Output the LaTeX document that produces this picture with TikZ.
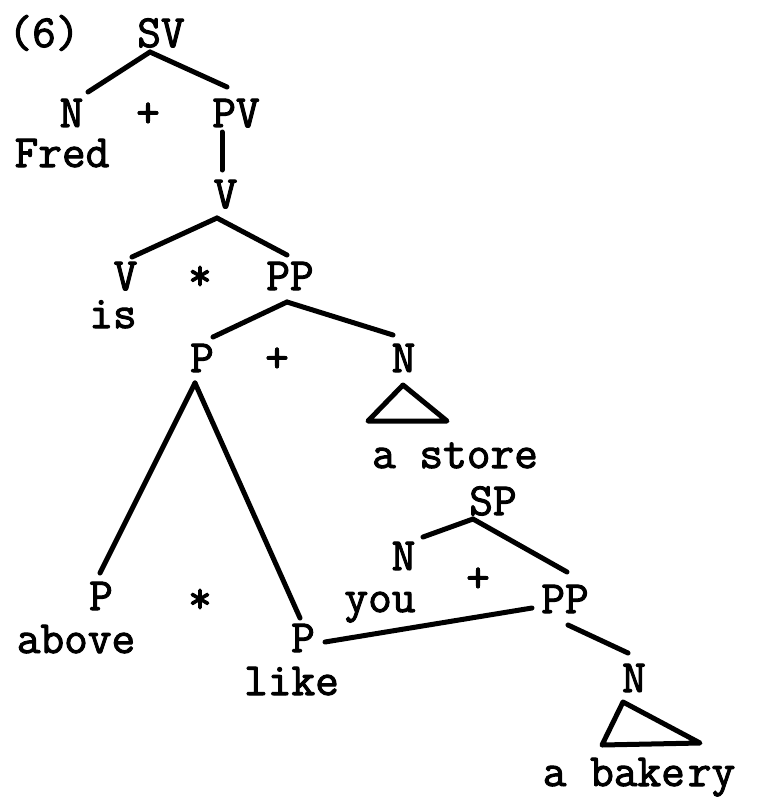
\documentclass[tikz,border=0pt]{standalone}
\usepackage{fontspec}
\newfontfamily\twfont{Latin Modern Mono}[FakeBold=2.2]
\begin{document}
\begin{tikzpicture}[x=1pt,y=-1pt,
  lbl/.style={anchor=base,inner sep=0pt,font=\fontsize{46}{52}\twfont},
  br/.style={line width=5pt,line cap=round,line join=round}]
\useasboundingbox[fill=white] (0,0) rectangle (756,797);
% labels
\node[lbl] (t6) at (44,47) {(6)};
\node[lbl] (SV) at (161,47) {SV};
\node[lbl] (N1) at (71.5,127) {N};
\node[lbl] (plus1) at (148,127) {+};
\node[lbl] (PV) at (236,127) {PV};
\node[lbl] (Fred) at (62,167) {Fred};
\node[lbl] (V1) at (225.5,208) {V};
\node[lbl] (V2) at (125.5,290) {V};
\node[lbl] (star1) at (200,290) {*};
\node[lbl] (PP1) at (290,290) {PP};
\node[lbl] (is) at (113,328) {is};
\node[lbl] (P1) at (202,372) {P};
\node[lbl] (plus2) at (277,372) {+};
\node[lbl] (N2) at (403.5,372) {N};
\node[lbl] (astore) at (455,468) {a store};
\node[lbl] (SP) at (493,515) {SP};
\node[lbl] (N3) at (403.5,570) {N};
\node[lbl] (plus3) at (478,592) {+};
\node[lbl] (you) at (380,612) {you};
\node[lbl] (PP2) at (565,613) {PP};
\node[lbl] (P2) at (101,610) {P};
\node[lbl] (star2) at (200,613) {*};
\node[lbl] (above) at (76,653) {above};
\node[lbl] (P3) at (303,652) {P};
\node[lbl] (like) at (291.5,695) {like};
\node[lbl] (N4) at (634,692) {N};
\node[lbl] (abakery) at (639,786) {a bake\kern3pt ry};
% branches
\draw[br] ([shift={(-11,5)}]SV.base) -- ([shift={(16.5,-35)}]N1.base);
\draw[br] ([shift={(-11,5)}]SV.base) -- ([shift={(-9,-40)}]PV.base);
\draw[br] ([shift={(-14,5)}]PV.base) -- ([shift={(-3.5,-38)}]V1.base);
\draw[br] ([shift={(-8.5,10)}]V1.base) -- ([shift={(6.5,-33)}]V2.base);
\draw[br] ([shift={(-8.5,10)}]V1.base) -- ([shift={(-3,-35)}]PP1.base);
\draw[br] ([shift={(-3,12)}]PP1.base) -- ([shift={(11,-35)}]P1.base);
\draw[br] ([shift={(-3,12)}]PP1.base) -- ([shift={(-10.5,-37)}]N2.base);
\draw[br] ([shift={(-0.5,13)}]N2.base) -- ([shift={(-35.5,49)}]N2.base) -- ([shift={(43.5,49)}]N2.base) -- cycle;
\draw[br] ([shift={(-7,11)}]P1.base) -- ([shift={(-1,-37)}]P2.base);
\draw[br] ([shift={(-7,11)}]P1.base) -- ([shift={(-3,-34)}]P3.base);
\draw[br] ([shift={(-20,4)}]SP.base) -- ([shift={(19.5,-33)}]N3.base);
\draw[br] ([shift={(-20,4)}]SP.base) -- ([shift={(2,-41)}]PP2.base);
\draw[br] ([shift={(22,-10)}]P3.base) -- ([shift={(-33,-5)}]PP2.base);
\draw[br] ([shift={(3,12)}]PP2.base) -- ([shift={(-6,-39)}]N4.base);
\draw[br] ([shift={(-11,10)}]N4.base) -- ([shift={(-32,53)}]N4.base) -- ([shift={(66,51)}]N4.base) -- cycle;
\end{tikzpicture}
\end{document}
